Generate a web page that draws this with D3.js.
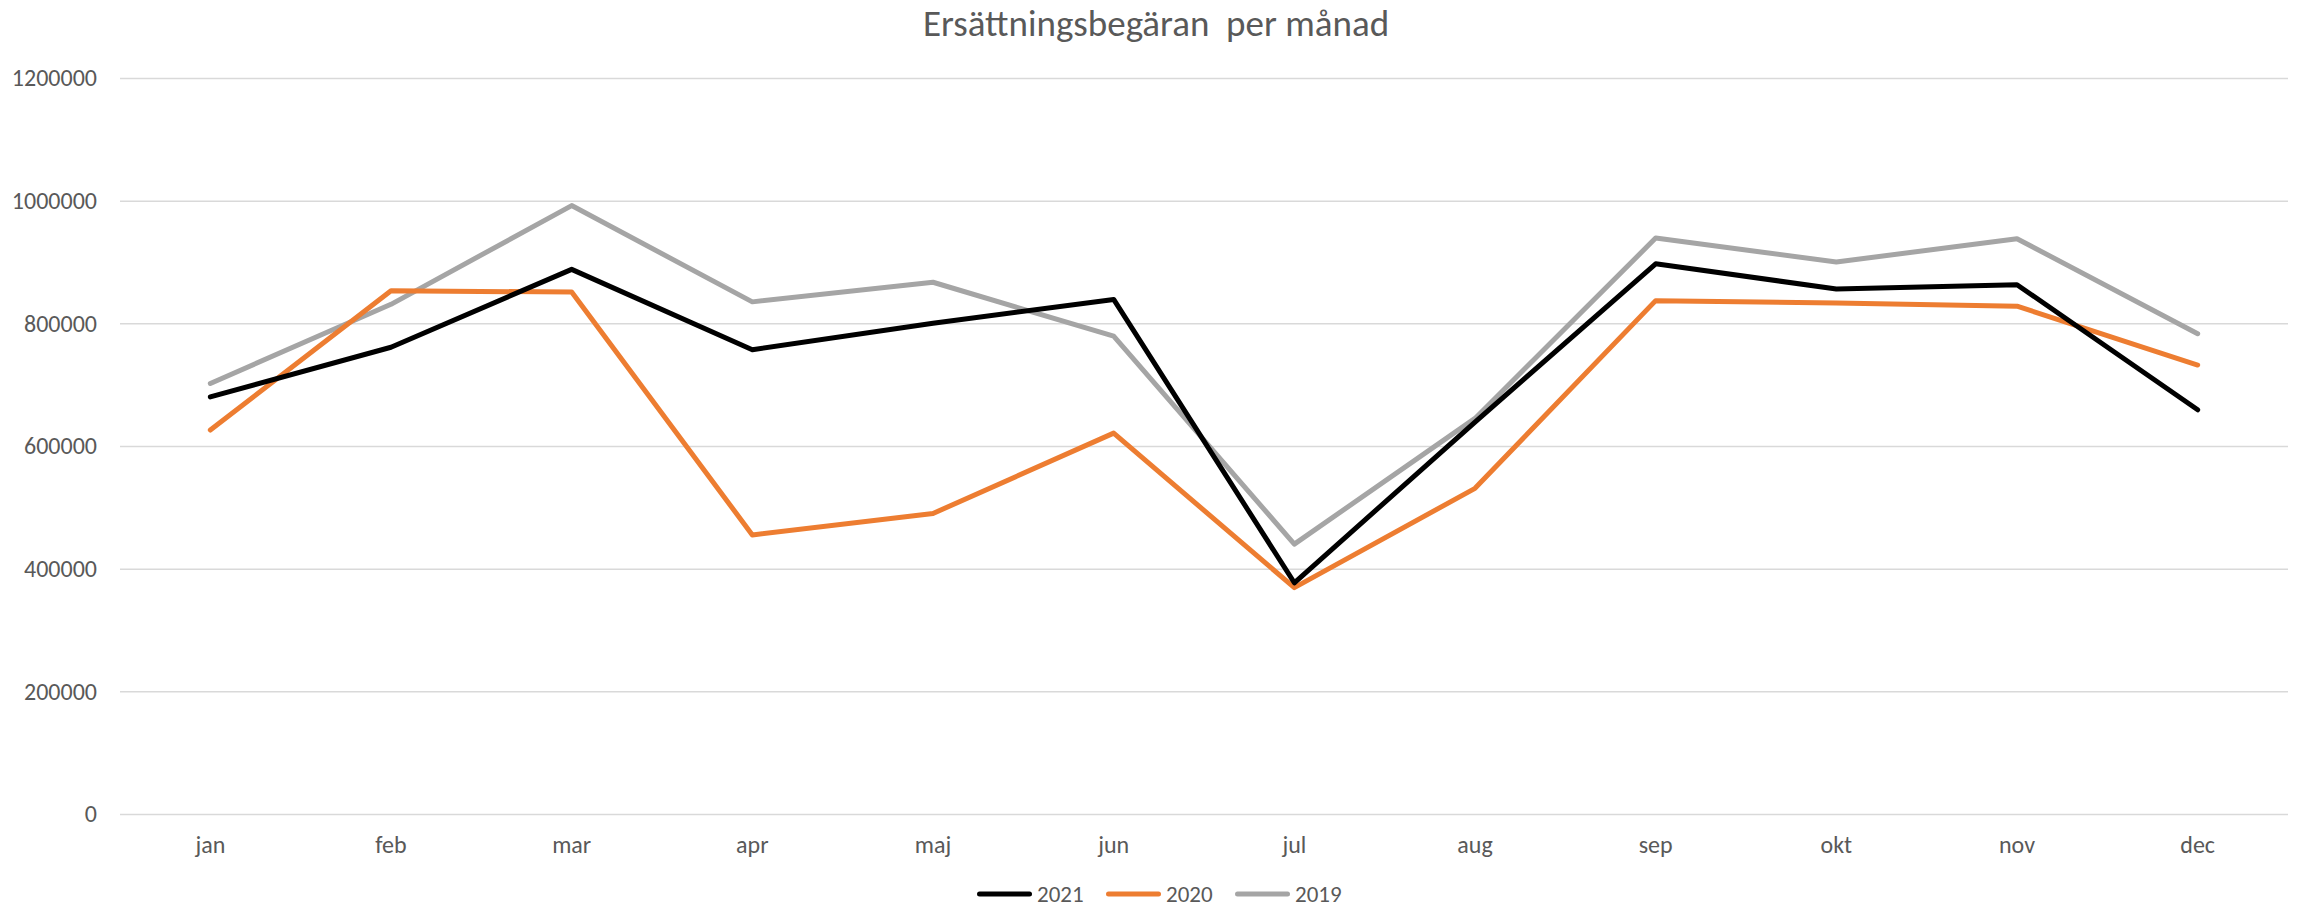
<!DOCTYPE html>
<html>
<head>
<meta charset="utf-8">
<script src="https://cdn.jsdelivr.net/npm/d3@7"></script>
<style>
  html, body { margin: 0; padding: 0; background: #fff; }
  svg text { font-family: Calibri, Carlito, "Open Sans", sans-serif; fill: #595959; }
</style>
</head>
<body>
<svg id="chart" width="2297" height="909"></svg>
<script>
// chart data
const months = ['jan', 'feb', 'mar', 'apr', 'maj', 'jun', 'jul', 'aug', 'sep', 'okt', 'nov', 'dec'];
const values2021 = [680000, 761000, 888000, 757000, 800000, 839000, 377000, 639000, 897000, 856000, 863000, 659000];
const values2020 = [626000, 853000, 851000, 455000, 490000, 621000, 369000, 531000, 837000, 833000, 828000, 732000];
const values2019 = [702000, 831000, 992000, 835000, 867000, 779000, 440000, 645000, 939000, 900000, 938000, 783000];
const yTicks = [0, 200000, 400000, 600000, 800000, 1000000, 1200000];
const title = 'Ersättningsbegäran\u00a0 per månad';

const series = [
    { name: '2021', values: values2021, color: '#000000' },
    { name: '2020', values: values2020, color: '#ed7d31' },
    { name: '2019', values: values2019, color: '#a5a5a5' }
];

const margin = { top: 78, right: 9, bottom: 95, left: 120 };
const W = 2297, H = 909;
const width = W - margin.left - margin.right;
const height = H - margin.top - margin.bottom;

const svg = d3.select('#chart');
const g = svg.append('g').attr('transform', `translate(${margin.left},${margin.top})`);

const x = d3.scaleBand().domain(months).range([0, width]);
const y = d3.scaleLinear().domain([0, 1200000]).range([height, 0]);

// gridlines + y labels
const yAxis = g.append('g')
    .call(d3.axisLeft(y).tickValues(yTicks).tickSize(-width).tickPadding(23).tickFormat(d3.format('d')));
yAxis.select('.domain').remove();
yAxis.selectAll('.tick line').attr('stroke', '#d9d9d9').attr('stroke-width', 1.5);
yAxis.selectAll('.tick text').attr('font-size', 24).style('fill', '#595959');

// month labels
const xAxis = g.append('g')
    .attr('transform', `translate(0,${height})`)
    .call(d3.axisBottom(x).tickSize(0).tickPadding(22));
xAxis.select('.domain').remove();
xAxis.selectAll('.tick text').attr('font-size', 24).style('fill', '#595959');

// lines
const line = d3.line()
    .x((d, i) => x(months[i]) + x.bandwidth() / 2)
    .y(d => y(d));

g.selectAll('path.series')
    .data(series.slice().reverse())
    .enter()
    .append('path')
    .attr('class', 'series')
    .attr('d', d => line(d.values))
    .attr('fill', 'none')
    .attr('stroke', d => d.color)
    .attr('stroke-width', 5)
    .attr('stroke-linejoin', 'round')
    .attr('stroke-linecap', 'round');

// title
svg.append('text')
    .attr('x', 1156)
    .attr('y', 36)
    .attr('text-anchor', 'middle')
    .attr('font-size', 37)
    .style('fill', '#595959')
    .text(title);

// legend
const legend = svg.append('g').attr('transform', 'translate(977,894)');
const item = legend.selectAll('g')
    .data(series)
    .enter()
    .append('g')
    .attr('transform', (d, i) => `translate(${i * 129},0)`);
item.append('line')
    .attr('x1', 2.5).attr('x2', 52.5)
    .attr('stroke', d => d.color)
    .attr('stroke-width', 5)
    .attr('stroke-linecap', 'round');
item.append('text')
    .attr('x', 60)
    .attr('y', 8)
    .attr('font-size', 23)
    .style('fill', '#595959')
    .text(d => d.name);
</script>
</body>
</html>
